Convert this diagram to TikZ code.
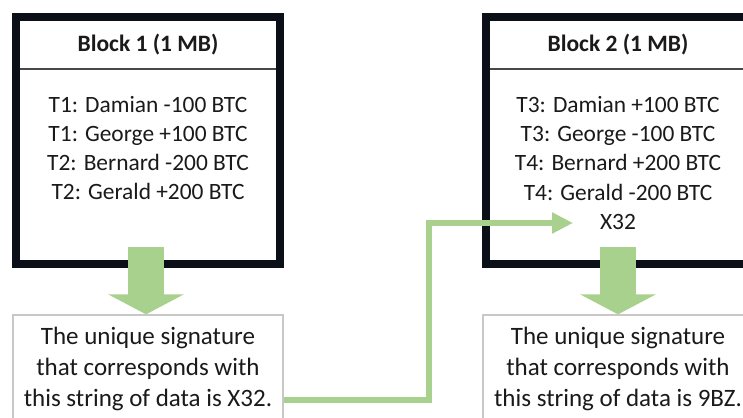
\documentclass[tikz,border=0pt]{standalone}
\usepackage{fontspec}
\setmainfont{Carlito}
\usetikzlibrary{arrows.meta}
\definecolor{grn}{HTML}{A9D18E}
\definecolor{framec}{HTML}{0B0F18}
\definecolor{txt}{HTML}{1A1A1A}
\definecolor{boxline}{HTML}{C8C8C8}
\begin{document}
\begin{tikzpicture}[x=1pt,y=-1pt,
  blockbox/.style={rectangle, draw=framec, line width=8pt, fill=white, inner sep=0pt, minimum width=264pt, minimum height=247pt},
  divider/.style={draw=txt!80, line width=1.4pt},
  titletext/.style={font=\fontsize{23.5}{27}\selectfont\bfseries, text=txt, inner sep=0pt},
  bodytext/.style={font=\fontsize{23.4}{29.3}\selectfont, text=txt, align=center, inner sep=0pt},
  sigbox/.style={rectangle, draw=boxline, line width=1.3pt, fill=white, minimum width=270pt, minimum height=108pt, inner sep=0pt,
     font=\fontsize{25}{31}\selectfont, text=txt, align=center},
  bigarrow/.style={draw=grn, line width=36pt, -{Triangle[width=75pt,length=20pt]}},
  link/.style={draw=grn, line width=6pt, -{Triangle[width=20pt,length=21pt]}}
]
\useasboundingbox (0,0) rectangle (743,417);
\clip (0,0) rectangle (743,417);
\fill[white] (0,0) rectangle (743,417);

% Block 1
\node[blockbox] (b1) at (148,140.5) {};
\draw[divider] (20,69) -- (276,69);
\node[titletext] (t1) at (148,45) {Block 1 (1 MB)};
\node[bodytext] (d1) at (148,148) {T1: Damian -100 BTC\\T1: George +100 BTC\\T2: Bernard -200 BTC\\T2: Gerald +200 BTC};

% Block 2
\node[blockbox] (b2) at (618,140.5) {};
\draw[divider] (490,69) -- (743,69);
\node[titletext] (t2) at (618,45) {Block 2 (1 MB)};
\node[bodytext] (d2) at (618,163) {T3: Damian +100 BTC\\T3: George -100 BTC\\T4: Bernard +200 BTC\\T4: Gerald -200 BTC\\X32};

% Signature boxes
\node[sigbox] (s1) at (148,369) {The unique signature\\that corresponds with\\this string of data is X32.};
\node[sigbox] (s2) at (618,369) {The unique signature\\that corresponds with\\this string of data is 9BZ.};

% Big arrows
\draw[bigarrow] ([xshift=-2pt,yshift=21pt]b1.south) -- ([xshift=-2pt]s1.north);
\draw[bigarrow] ([yshift=21pt]b2.south) -- (s2.north);

% Link
\coordinate (bend) at (429,223);
\coordinate (tip) at (573,223);
\draw[link] ([yshift=-31pt]s1.east) -| (bend) -- (tip);
\end{tikzpicture}
\end{document}
